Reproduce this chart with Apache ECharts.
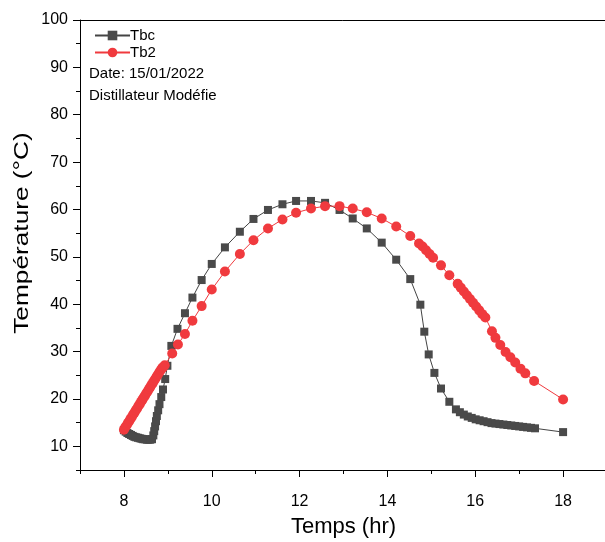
<!DOCTYPE html>
<html>
<head>
<meta charset="utf-8">
<script src="https://cdn.jsdelivr.net/npm/echarts@6/dist/echarts.min.js"></script>
<style>
html,body{margin:0;padding:0;background:#fff;}
#c{width:605px;height:542px;}
</style>
</head>
<body>
<div id="c"></div>
<script>
var tbcX = [8.00,8.04,8.08,8.12,8.16,8.20,8.24,8.28,8.32,8.36,8.40,8.44,8.48,8.52,8.56,8.60,8.64,8.67,8.69,8.71,8.73,8.75,8.78,8.81,8.85,8.89,8.94,8.99,9.08,9.22,9.39,9.56,9.77,10.00,10.30,10.64,10.95,11.28,11.61,11.92,12.26,12.58,12.91,13.21,13.53,13.87,14.20,14.52,14.75,14.84,14.94,15.07,15.22,15.41,15.56,15.65,15.74,15.83,15.92,16.01,16.10,16.19,16.28,16.37,16.46,16.55,16.64,16.73,16.82,16.91,17.00,17.09,17.18,17.27,17.36,18.00];
var tbcY = [13.4,13.1,12.8,12.6,12.4,12.2,12.0,11.9,11.8,11.7,11.6,11.5,11.5,11.4,11.4,11.4,11.5,12.3,13.2,14.2,15.3,16.4,17.6,18.9,20.4,22.0,24.2,27.0,31.2,34.8,38.1,41.4,45.1,48.5,52.0,55.3,58.0,59.9,61.1,61.8,61.8,61.4,59.9,58.1,56.0,53.0,49.4,45.3,39.9,34.2,29.4,25.5,22.2,19.4,17.8,17.2,16.7,16.3,16.0,15.7,15.5,15.3,15.1,14.9,14.8,14.7,14.6,14.5,14.4,14.3,14.2,14.1,14.0,13.9,13.8,13.0];

var tb2X = [8.00,8.03,8.06,8.09,8.12,8.15,8.18,8.21,8.24,8.27,8.30,8.33,8.36,8.39,8.42,8.45,8.48,8.51,8.54,8.57,8.60,8.63,8.66,8.69,8.72,8.75,8.78,8.81,8.84,8.87,8.90,8.93,9.10,9.23,9.39,9.56,9.77,10.00,10.30,10.64,10.95,11.28,11.61,11.92,12.26,12.58,12.91,13.21,13.53,13.87,14.20,14.52,14.72,14.80,14.88,14.96,15.04,15.22,15.41,15.60,15.67,15.74,15.81,15.88,15.95,16.02,16.09,16.16,16.23,16.38,16.46,16.57,16.69,16.80,16.91,17.03,17.14,17.34,18.00];
var tb2Y = [13.5,14.0,14.4,14.9,15.3,15.8,16.2,16.7,17.1,17.6,18.0,18.5,18.9,19.4,19.8,20.3,20.7,21.2,21.6,22.1,22.5,23.0,23.4,23.9,24.3,24.8,25.2,25.7,26.1,26.5,26.8,27.1,29.6,31.5,33.7,36.5,39.6,43.1,46.9,50.6,53.5,56.0,57.9,59.3,60.2,60.7,60.7,60.2,59.4,58.1,56.4,54.4,52.8,52.2,51.4,50.6,49.8,48.2,46.1,44.3,43.5,42.7,41.9,41.1,40.3,39.5,38.7,37.9,37.2,34.3,32.9,31.4,29.9,28.8,27.7,26.4,25.4,23.8,19.9];

var xMajorTicks = [8,10,12,14,16,18];
var yMajorTicks = [10,20,30,40,50,60,70,80,90,100];
var infoLines = ['Date: 15/01/2022', 'Distillateur Modéfie'];
var yTitle = 'Température (°C)';
var xTitle = 'Temps (hr)';

function pairs(xs, ys){ return xs.map(function(x,i){ return [x, ys[i]]; }); }

var FONT = '"Liberation Sans", Arial, sans-serif';
var chart = echarts.init(document.getElementById('c'), null, {renderer:'canvas'});
var graphics = infoLines.map(function(t,i){
  return {type:'text', left:89, top:66 + i*22, style:{text:t, font:'15px ' + FONT, fill:'#000'}};
});
graphics.push({
  type:'text', x:22, y:233, rotation:Math.PI/2, scaleX:1.25, scaleY:1,
  style:{text:yTitle, font:'21px ' + FONT, fill:'#000', textAlign:'center', textVerticalAlign:'middle'}
});
chart.setOption({
  animation:false,
  backgroundColor:'#fff',
  textStyle:{fontFamily:FONT},
  grid:{left:80, right:-2, top:20, bottom:72, outerBoundsMode:'none', containLabel:false, show:false},
  legend:{
    left:89, top:23, orient:'vertical', itemWidth:35, itemHeight:12, itemGap:2,
    textStyle:{fontFamily:FONT, fontSize:15, color:'#000', padding:[0,0,0,-5]},
    data:['Tbc','Tb2']
  },
  graphic: graphics,
  xAxis:[{
    type:'value', min:7, max:19, interval:1, position:'bottom',
    name:xTitle, nameLocation:'middle', nameGap:46,
    nameTextStyle:{fontSize:22, color:'#000', fontFamily:FONT},
    axisLine:{show:true, onZero:false, lineStyle:{color:'#000', width:1}},
    axisTick:{show:true, inside:false, length:4, lineStyle:{color:'#000'}},
    axisLabel:{margin:24, fontSize:16, color:'#000', fontFamily:FONT,
      formatter:function(v){ return (v % 2 === 0) ? String(v) : ''; }},
    splitLine:{show:false}
  },{
    type:'value', min:7, max:19, position:'bottom',
    axisLine:{show:false}, axisLabel:{show:false}, splitLine:{show:false},
    axisTick:{show:true, inside:false, length:7, customValues:xMajorTicks, lineStyle:{color:'#000'}}
  },{
    type:'value', min:7, max:19, position:'top',
    axisLine:{show:true, onZero:false, lineStyle:{color:'#000', width:1}},
    axisTick:{show:false}, axisLabel:{show:false}, splitLine:{show:false}
  }],
  yAxis:[{
    type:'value', min:5, max:100, interval:5, position:'left',
    axisLine:{show:true, onZero:false, lineStyle:{color:'#000', width:1}},
    axisTick:{show:true, inside:false, length:4, lineStyle:{color:'#000'}},
    axisLabel:{margin:12, fontSize:16, color:'#000', fontFamily:FONT,
      formatter:function(v){ return (v % 10 === 0) ? String(v) : ''; }},
    splitLine:{show:false}
  },{
    type:'value', min:5, max:100, position:'left',
    axisLine:{show:false}, axisLabel:{show:false}, splitLine:{show:false},
    axisTick:{show:true, inside:false, length:7, customValues:yMajorTicks, lineStyle:{color:'#000'}}
  }],
  series:[{
    name:'Tbc', type:'line', xAxisIndex:0, yAxisIndex:0,
    data:pairs(tbcX, tbcY),
    symbol:'rect', symbolSize:8, showAllSymbol:true,
    lineStyle:{color:'#444', width:1},
    itemStyle:{color:'#4a4a4a', borderWidth:0}
  },{
    name:'Tb2', type:'line', xAxisIndex:0, yAxisIndex:0,
    data:pairs(tb2X, tb2Y),
    symbol:'circle', symbolSize:10, showAllSymbol:true,
    lineStyle:{color:'#f03a3e', width:1},
    itemStyle:{color:'#f03a3e', borderWidth:0}
  }]
});
</script>
</body>
</html>
